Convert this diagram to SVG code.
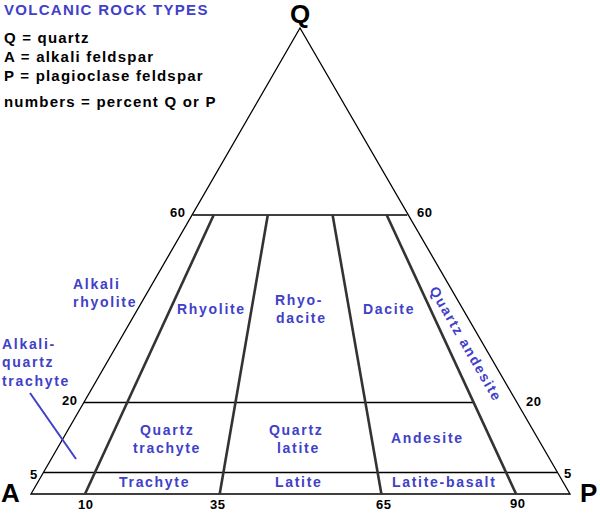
<svg xmlns="http://www.w3.org/2000/svg" width="600" height="515" viewBox="0 0 600 515">
<style>
.bg{fill:#ffffff}
.thin{stroke:#000;stroke-width:1.3;fill:none}
.thick{stroke:#333;stroke-width:2.6;fill:none}
.ptr{stroke:#4040c8;stroke-width:2;fill:none}
.lbl{font-family:"Liberation Sans",Arial,sans-serif;font-weight:bold;font-size:14px;fill:#4040c8;letter-spacing:1.7px}
.title{font-family:"Liberation Sans",Arial,sans-serif;font-weight:bold;font-size:15px;fill:#4040c8;letter-spacing:1.3px}
.leg{font-family:"Liberation Sans",Arial,sans-serif;font-weight:bold;font-size:15px;fill:#000;letter-spacing:1.2px}
.num{font-family:"Liberation Sans",Arial,sans-serif;font-weight:bold;font-size:13px;fill:#000;letter-spacing:0.6px}
.apex{font-family:"Liberation Sans",Arial,sans-serif;font-weight:bold;font-size:26px;fill:#000}
</style>
<rect class="bg" x="0" y="0" width="600" height="515"/>
<g id="legend">
<text class="title" x="4" y="15">VOLCANIC ROCK TYPES</text>
<text class="leg" x="4" y="43">Q = quartz</text>
<text class="leg" x="4" y="62">A = alkali feldspar</text>
<text class="leg" x="4" y="81">P = plagioclase feldspar</text>
<text class="leg" x="4" y="107">numbers = percent Q or P</text>
</g>
<g id="connectors">
<polygon class="thin" points="300,28 31,494 570,494"/>
<line class="thin" x1="192.7" y1="215" x2="407.3" y2="215"/>
<line class="thin" x1="83.9" y1="402.5" x2="473.5" y2="402.5"/>
<line class="thin" x1="43.5" y1="472.5" x2="557.5" y2="472.5"/>
<line class="thick" x1="213.7" y1="215" x2="85" y2="494"/>
<line class="thick" x1="267.8" y1="215" x2="219.7" y2="494"/>
<line class="thick" x1="332.6" y1="215" x2="381.4" y2="494"/>
<line class="thick" x1="386.7" y1="215" x2="516.1" y2="494"/>
<line class="ptr" x1="30" y1="393" x2="76" y2="459"/>
</g>
<g id="apices">
<text class="apex" x="300" y="22.5" text-anchor="middle" font-size="23">Q</text>
<text class="apex" x="1" y="502">A</text>
<text class="apex" x="580" y="502">P</text>
</g>
<g id="numbers">
<text class="num" x="170" y="217">60</text>
<text class="num" x="417" y="217">60</text>
<text class="num" x="62" y="405">20</text>
<text class="num" x="526" y="406">20</text>
<text class="num" x="30" y="479">5</text>
<text class="num" x="564" y="478">5</text>
<text class="num" x="78" y="509">10</text>
<text class="num" x="210" y="509">35</text>
<text class="num" x="376" y="509">65</text>
<text class="num" x="510" y="508">90</text>
</g>
<g id="alkali-rhyolite">
<text class="lbl" x="73" y="289">Alkali</text>
<text class="lbl" x="73" y="307">rhyolite</text>
</g>
<g id="rhyolite"><text class="lbl" x="177" y="314">Rhyolite</text></g>
<g id="rhyodacite">
<text class="lbl" x="275" y="305">Rhyo-</text>
<text class="lbl" x="276" y="323">dacite</text>
</g>
<g id="dacite"><text class="lbl" x="363" y="314">Dacite</text></g>
<g id="quartz-andesite">
<text class="lbl" transform="translate(466,344) rotate(60)" x="0" y="5" text-anchor="middle">Quartz andesite</text>
</g>
<g id="alkali-quartz-trachyte">
<text class="lbl" x="2" y="349">Alkali-</text>
<text class="lbl" x="2" y="367">quartz</text>
<text class="lbl" x="2" y="386">trachyte</text>
</g>
<g id="quartz-trachyte">
<text class="lbl" x="140" y="435">Quartz</text>
<text class="lbl" x="133" y="453">trachyte</text>
</g>
<g id="quartz-latite">
<text class="lbl" x="269" y="435">Quartz</text>
<text class="lbl" x="277" y="453">latite</text>
</g>
<g id="andesite"><text class="lbl" x="391" y="443">Andesite</text></g>
<g id="trachyte"><text class="lbl" x="119" y="487">Trachyte</text></g>
<g id="latite"><text class="lbl" x="275" y="487">Latite</text></g>
<g id="latite-basalt"><text class="lbl" x="392" y="487">Latite-basalt</text></g>
</svg>
